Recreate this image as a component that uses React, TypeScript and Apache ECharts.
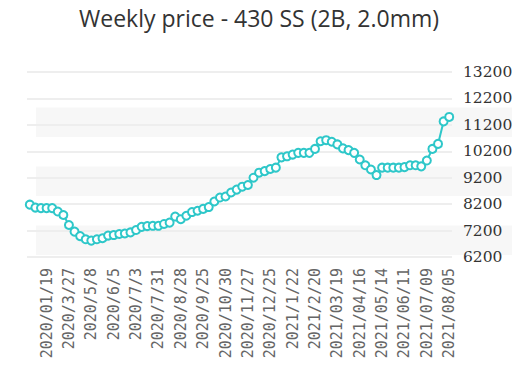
import React, { useEffect, useRef } from "react";
import * as echarts from "echarts";

const titleText = "Weekly price - 430 SS (2B, 2.0mm)";

const categories: string[] = [
  "2019/12/27", "2020/01/03", "2020/01/10", "2020/01/19",
  "2020/3/6", "2020/3/13", "2020/3/20", "2020/3/27",
  "2020/4/10", "2020/4/17", "2020/4/30", "2020/5/8",
  "2020/5/15", "2020/5/22", "2020/5/29", "2020/6/5",
  "2020/6/12", "2020/6/19", "2020/6/24", "2020/7/3",
  "2020/7/10", "2020/7/17", "2020/7/24", "2020/7/31",
  "2020/8/7", "2020/8/14", "2020/8/21", "2020/8/28",
  "2020/9/4", "2020/9/11", "2020/9/18", "2020/9/25",
  "2020/10/9", "2020/10/16", "2020/10/23", "2020/10/30",
  "2020/11/6", "2020/11/13", "2020/11/20", "2020/11/27",
  "2020/12/4", "2020/12/11", "2020/12/18", "2020/12/25",
  "2021/1/1", "2021/1/8", "2021/1/15", "2021/1/22",
  "2021/1/29", "2021/2/5", "2021/2/10", "2021/2/20",
  "2021/02/26", "2021/03/05", "2021/03/12", "2021/03/19",
  "2021/03/26", "2021/04/02", "2021/04/09", "2021/04/16",
  "2021/04/23", "2021/04/30", "2021/05/07", "2021/05/14",
  "2021/05/21", "2021/05/28", "2021/06/04", "2021/06/11",
  "2021/06/18", "2021/06/25", "2021/07/02", "2021/07/09",
  "2021/07/16", "2021/07/23", "2021/07/30", "2021/08/05",
];

const prices: number[] = [
  8180, 8070, 8050, 8050, 8050, 7920, 7790, 7410,
  7160, 6990, 6870, 6820, 6870, 6910, 7010, 7030,
  7070, 7090, 7130, 7220, 7340, 7370, 7380, 7380,
  7450, 7500, 7730, 7630, 7760, 7900, 7950, 8020,
  8090, 8300, 8450, 8490, 8640, 8750, 8860, 8925,
  9200, 9390, 9450, 9530, 9580, 9970, 10010, 10075,
  10140, 10140, 10140, 10290, 10580, 10620, 10560, 10460,
  10310, 10245, 10140, 9890, 9670, 9510, 9300, 9580,
  9580, 9580, 9580, 9600, 9670, 9670, 9630, 9850,
  10290, 10480, 11330, 11500,
];

const yMin = 6200;
const yMax = 13200;
const yStep = 1000;

export default function App() {
  const ref = useRef<HTMLDivElement>(null);
  useEffect(() => {
    if (!ref.current) return;
    const chart = echarts.init(ref.current, undefined, { renderer: "svg" });
    chart.setOption({
      animation: false,
      backgroundColor: "#ffffff",
      title: {
        text: titleText,
        left: 74,
        top: 1,
        textStyle: {
          fontFamily: "Open Sans",
          fontSize: 23,
          fontWeight: "normal",
          color: "#333333",
        },
      },
      grid: [
        { left: 36, right: 17, top: 78, bottom: 134 },
        { left: 27, right: 77, top: 72, bottom: 132 },
      ],
      xAxis: [
        { gridIndex: 0, type: "value", min: 0, max: 1, show: false },
        {
          gridIndex: 1,
          type: "category",
          data: categories,
          boundaryGap: true,
          axisLine: { show: false },
          axisTick: { show: false },
          axisLabel: {
            rotate: 90,
            interval: (i: number) => i % 4 === 3,
            margin: 11,
            fontFamily: "DejaVu Sans Mono",
            fontSize: 15,
            color: "#666666",
          },
        },
      ],
      yAxis: [
        {
          gridIndex: 0,
          type: "value",
          min: 0,
          max: 6,
          interval: 1,
          axisLine: { show: false },
          axisTick: { show: false },
          axisLabel: { show: false },
          splitLine: { show: false },
          splitArea: {
            show: true,
            areaStyle: { color: ["#f7f7f7", "rgba(255,255,255,0)"] },
          },
        },
        {
          gridIndex: 1,
          type: "value",
          position: "right",
          min: yMin,
          max: yMax,
          interval: yStep,
          axisLine: { show: false },
          axisTick: { show: false },
          axisLabel: {
            margin: 11,
            fontFamily: "DejaVu Serif",
            fontSize: 15.5,
            color: "#333333",
            formatter: (v: number) => String(v),
          },
          splitLine: { show: true, lineStyle: { color: "#eeeeee", width: 2 } },
        },
      ],
      series: [
        {
          type: "line",
          xAxisIndex: 1,
          yAxisIndex: 1,
          data: prices,
          symbol: "emptyCircle",
          symbolSize: 8,
          showAllSymbol: true,
          color: "#2ec7c9",
          lineStyle: { width: 2, color: "#2ec7c9" },
          itemStyle: { color: "#2ec7c9", borderWidth: 2 },
        },
      ],
    });
    return () => chart.dispose();
  }, []);
  return (
    <div
      ref={ref}
      style={{ position: "fixed", left: 0, top: 0, width: 529, height: 389 }}
    />
  );
}
